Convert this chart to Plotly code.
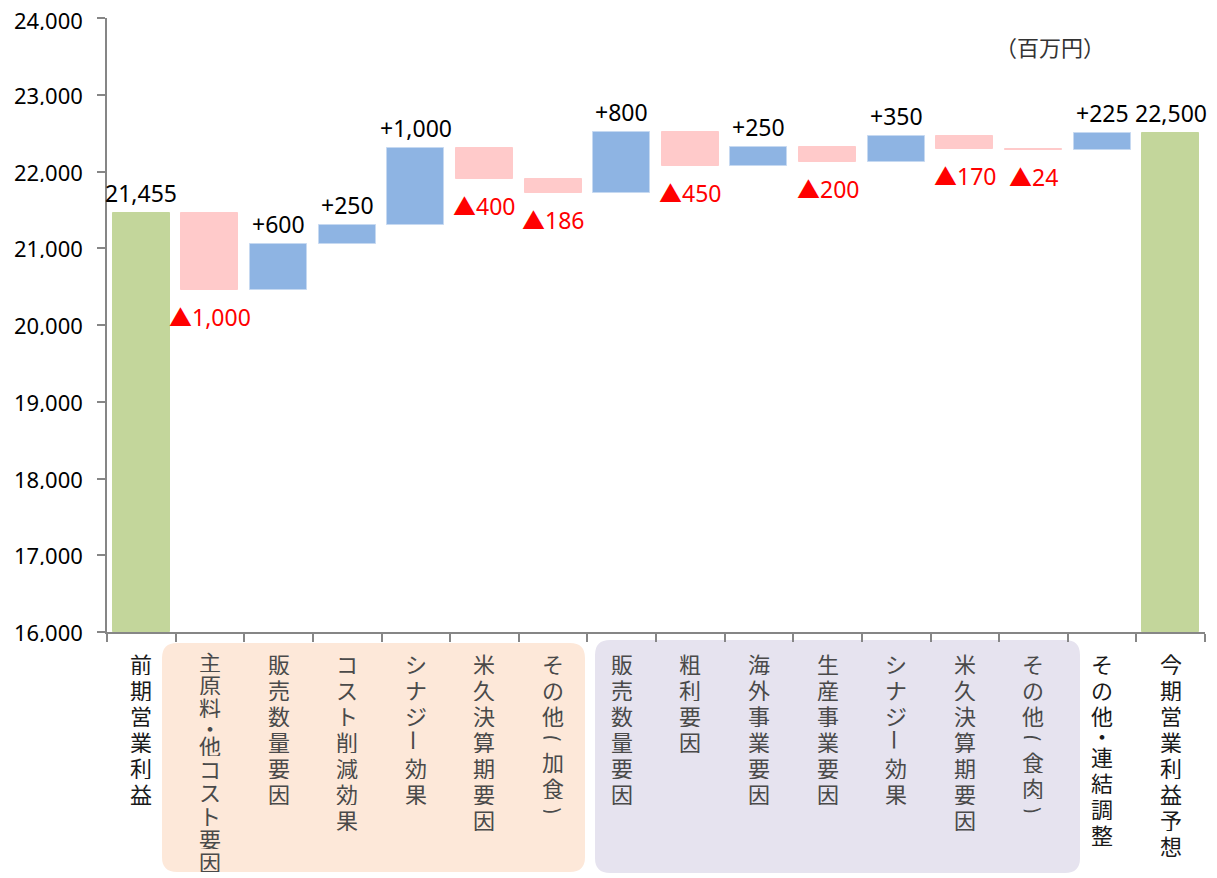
import plotly.graph_objects as go

# ---------------- data ----------------
categories = ["前期営業利益", "主原料・他コスト要因", "販売数量要因", "コスト削減効果",
              "シナジー効果", "米久決算期要因", "その他(加食)", "販売数量要因", "粗利要因",
              "海外事業要因", "生産事業要因", "シナジー効果", "米久決算期要因",
              "その他(食肉)", "その他・連結調整", "今期営業利益予想"]
start_value = 21455
changes = [-1000, 600, 250, 1000, -400, -186, 800, -450, 250, -200, 350, -170, -24, 225]
end_value = 22500
y_ticks = [16000, 17000, 18000, 19000, 20000, 21000, 22000, 23000, 24000]
unit_label = "（百万円）"

# ---------------- styles ----------------
C_TOTAL = "#c3d69b"
C_UP = "#8eb4e3"
C_DOWN = "#ffcaca"
C_RED = "#ff0000"
FONT = "Noto Sans, Noto Sans CJK JP, sans-serif"
JFONT = "Noto Sans CJK JP, Noto Sans, sans-serif"
OFF = 8  # page body margin
W, H = 1217 - OFF, 878 - OFF
ML, MR, MT, MB = 107 - OFF, 12, 18 - OFF, 246
PW, PH = W - ML - MR, H - MT - MB


def px(x):  # page pixel -> paper x
    return (x - OFF - ML) / PW


def py(y):  # page pixel -> paper y
    return (H - MB - (y - OFF)) / PH


n = len(categories)
xs = list(range(n))
bases, heights, colors, lines = [16000], [start_value - 16000], [C_TOTAL], [C_TOTAL]
run = start_value
for d in changes:
    if d >= 0:
        bases.append(run)
        heights.append(d)
        colors.append(C_UP)
        lines.append("#c6d9f1")
    else:
        bases.append(run + d)
        heights.append(-d)
        colors.append(C_DOWN)
        lines.append(C_DOWN)
    run += d
bases.append(16000)
heights.append(end_value - 16000)
colors.append(C_TOTAL)
lines.append(C_TOTAL)

fig = go.Figure()
fig.add_trace(go.Bar(x=xs, y=heights, base=bases, width=0.83,
                     marker=dict(color=colors, line=dict(color=lines, width=1)),
                     hoverinfo="skip"))

LBL = dict(family=FONT, size=23, color="#000")
ann = []
ann.append(dict(x=0, y=start_value, text=f"{start_value:,}", yanchor="bottom", yshift=2,
                showarrow=False, font=LBL))
ann.append(dict(x=n - 1, y=end_value, text=f"{end_value:,}", yanchor="bottom", yshift=2,
                showarrow=False, font=LBL))
run = start_value
for i, d in enumerate(changes, start=1):
    if d >= 0:
        ann.append(dict(x=i, y=run + d, text=f"+{d:,}", yanchor="bottom", yshift=2,
                        showarrow=False, font=LBL))
    else:
        ann.append(dict(x=i, y=run + d, text=f"▲{-d:,}", yanchor="top", yshift=-9,
                        showarrow=False, font=dict(family=FONT, size=23, color=C_RED)))
    run += d

# y-axis tick labels (placed on the y scale)
for v in y_ticks:
    ann.append(dict(xref="paper", yref="y", x=px(84), y=v, text=f"{v:,}",
                    xanchor="right", yanchor="middle", showarrow=False,
                    height=20, valign="middle", borderpad=0,
                    yshift=-2 if v == y_ticks[-1] else 0,
                    font=dict(family=FONT, size=22, color="#000")))

ann.append(dict(xref="paper", yref="paper", x=px(1050), y=py(46),
                text=unit_label, showarrow=False, xanchor="center", yanchor="middle",
                font=dict(family=JFONT, size=22, color="#333")))

# vertical category labels, one glyph per annotation
TOP, BOTTOM = 649, 873
UNITS = {"・": 0.6, "(": 0.8, ")": 0.8}
for i, cat in enumerate(categories):
    units = [UNITS.get(c, 1.0) for c in cat]
    pitch = min(26.0, (BOTTOM - TOP) / sum(units))
    inside = 0 < i < n - 2
    col = "#4a4a4a" if inside else "#1a1a1a"
    yy = TOP
    for c, u in zip(cat, units):
        h = pitch * u
        rot = 90 if c in "ー()" else 0
        ann.append(dict(x=i, xref="x", yref="paper", y=py(yy + h / 2), text=c,
                        showarrow=False, xanchor="center", yanchor="middle",
                        height=max(int(h) - 1, 8), valign="middle", borderpad=0,
                        textangle=rot, font=dict(family=JFONT, size=22, color=col)))
        yy += h


def rrect(x0, y0, x1, y1, r, color):
    rx, ry = r / PW, r / PH
    X0, X1, Y0, Y1 = px(x0), px(x1), py(y0), py(y1)
    path = (f"M {X0+rx},{Y0} L {X1-rx},{Y0} Q {X1},{Y0} {X1},{Y0-ry} "
            f"L {X1},{Y1+ry} Q {X1},{Y1} {X1-rx},{Y1} L {X0+rx},{Y1} "
            f"Q {X0},{Y1} {X0},{Y1+ry} L {X0},{Y0-ry} Q {X0},{Y0} {X0+rx},{Y0} Z")
    return dict(type="path", xref="paper", yref="paper", path=path,
                fillcolor=color, line=dict(width=0), layer="below")


shapes = [rrect(162, 643, 585, 872, 15, "#fde8d9"),
          rrect(595, 640, 1080, 873, 15, "#e6e3ef")]

fig.update_layout(
    width=W, height=H,
    margin=dict(l=ML, r=MR, t=MT, b=MB, autoexpand=False),
    paper_bgcolor="white", plot_bgcolor="white",
    showlegend=False, bargap=0,
    annotations=ann, shapes=shapes,
    xaxis=dict(range=[-0.5, n - 0.5], tickmode="array", tickvals=xs,
               showticklabels=False, automargin=False,
               ticks="", showline=True, linecolor="#868686", linewidth=1.5,
               showgrid=False, zeroline=False,
               minor=dict(tickmode="array", tickvals=[i - 0.5 for i in range(n + 1)],
                          ticks="outside", ticklen=8, tickcolor="#868686", tickwidth=1.5,
                          showgrid=False)),
    yaxis=dict(range=[16000, 24000], tickmode="array", tickvals=y_ticks,
               showticklabels=False, automargin=False,
               ticks="outside", ticklen=8, tickcolor="#868686", tickwidth=1.5,
               showline=True, linecolor="#868686", linewidth=1.5,
               showgrid=False, zeroline=False),
)

fig.write_html("out.html")
